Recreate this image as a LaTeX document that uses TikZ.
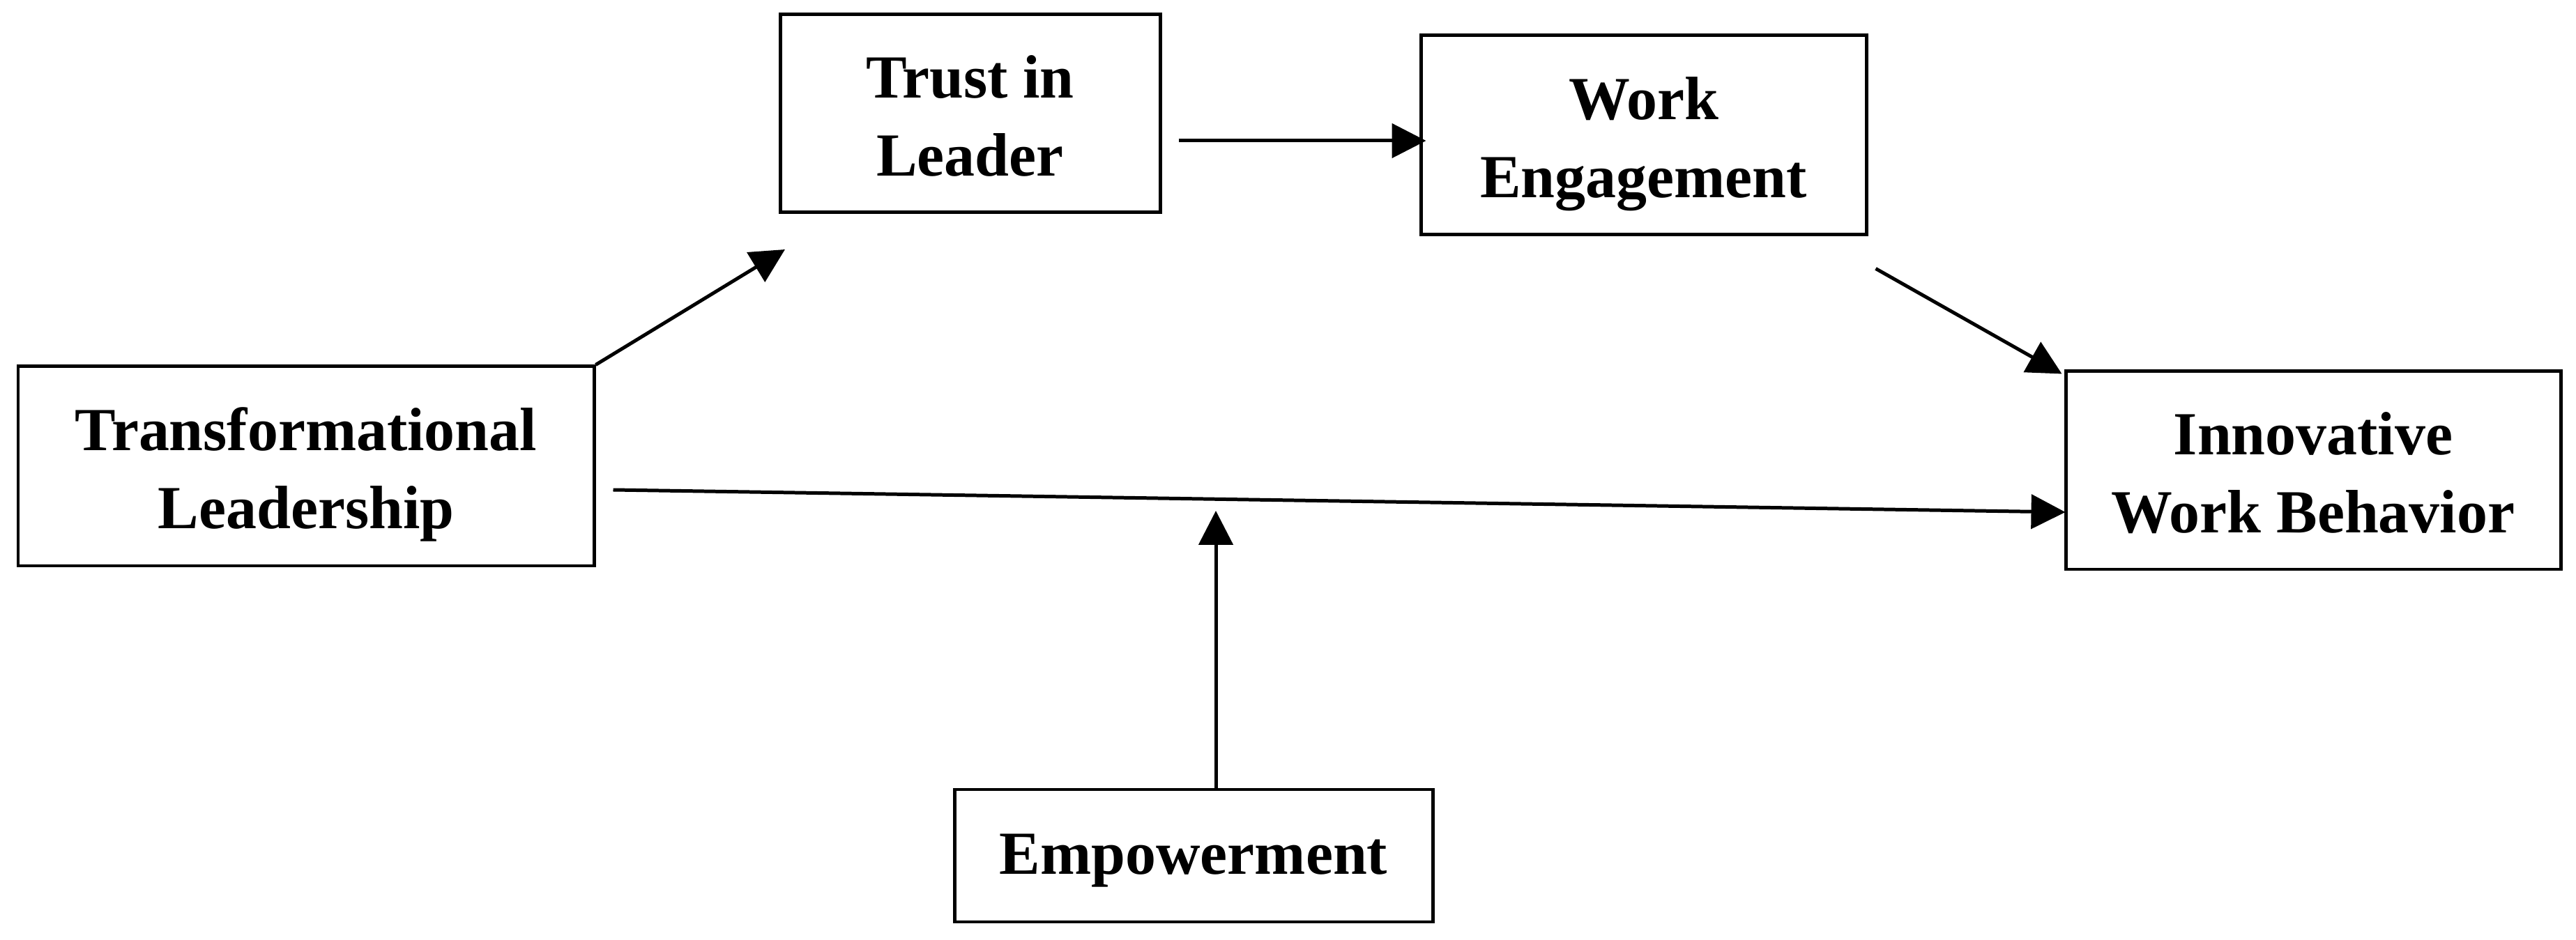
\documentclass[tikz,border=0pt]{standalone}
\usepackage{fontspec}
\setmainfont{Liberation Serif}
\usetikzlibrary{arrows.meta}
\newcommand{\boxstrut}{\rule[-5.5pt]{0pt}{30pt}}
\newcommand{\onestrut}{\rule[-5.5pt]{0pt}{25.8pt}}

\begin{document}
\begin{tikzpicture}[%
  box/.style={draw, line width=1.42pt, align=center, inner sep=0pt,
    font=\fontsize{25}{31.9}\selectfont\bfseries},
  arr/.style={line width=1.42pt, -{Triangle[length=0.49cm, width=0.49cm]}}]
  \useasboundingbox (0,0) rectangle (36.95,-13.49);
  \node[box, minimum width=5.45cm, minimum height=2.84cm] (trust) at (13.915,-1.63) {\boxstrut Trust in\\\boxstrut Leader};
  \node[box, minimum width=6.39cm, minimum height=2.86cm] (we) at (23.575,-1.94) {\boxstrut Work\\\boxstrut Engagement};
  \node[box, minimum width=8.26cm, minimum height=2.86cm] (tl) at (4.39,-6.69) {\boxstrut Transformational\\\boxstrut Leadership};
  \node[box, minimum width=7.10cm, minimum height=2.84cm] (iwb) at (33.18,-6.75) {\boxstrut Innovative\\\boxstrut Work Behavior};
  \node[box, minimum width=6.86cm, minimum height=1.90cm] (emp) at (17.12,-12.28) {\onestrut Empowerment};
  % free ends
  \coordinate (tltip) at (11.26,-3.58);
  \coordinate (trustout) at (16.91,-2.02);
  \coordinate (emptip) at (17.44,-7.33);
  \draw[arr] (tl.north east) -- (tltip);
  \draw[arr] (trustout) -- ([xshift=0.1cm]trustout -| we.west);
  \draw[arr] ([shift={(0.11,-0.46)}]we.south east) -- ([shift={(-0.03,-0.06)}]iwb.north west);
  \draw[arr] ([shift={(0.25,-0.34)}]tl.east) -- ([shift={(0.02,-0.60)}]iwb.west);
  \draw[arr] ([xshift=0.32cm]emp.north) -- (emptip);
\end{tikzpicture}
\end{document}
